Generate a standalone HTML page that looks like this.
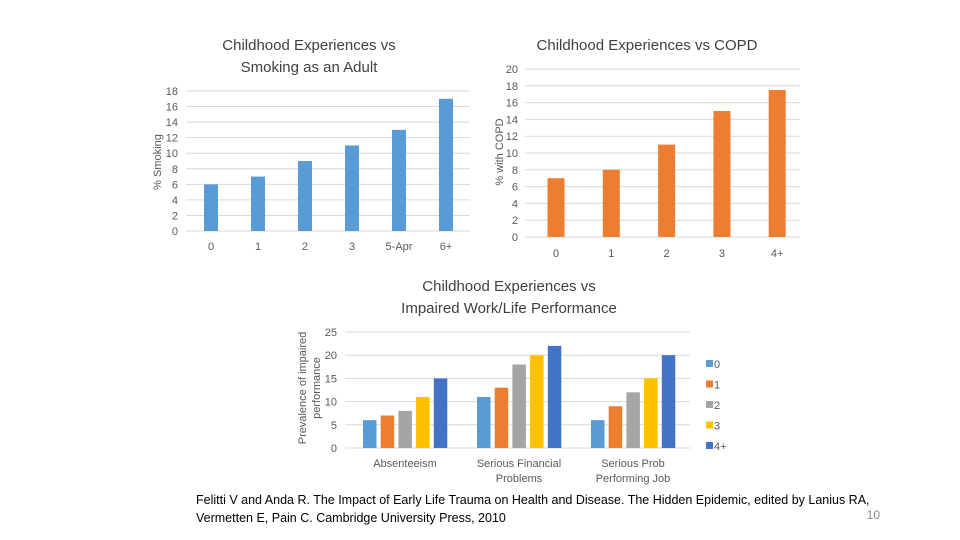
<!DOCTYPE html>
<html><head><meta charset="utf-8"><style>
body{margin:0;width:960px;height:540px;background:#fff;overflow:hidden;font-family:"Liberation Sans",sans-serif}
svg{position:absolute;left:0;top:0}
text{fill:#595959;font-family:"Liberation Sans",sans-serif}
</style></head><body>
<svg width="960" height="540">
<g id="c1"></g>
<g id="c2"></g>
<g id="c3"></g>
<text x="309" y="50" font-size="15" text-anchor="middle" style="fill:#404040">Childhood Experiences vs</text>
<text x="309" y="72" font-size="15" text-anchor="middle" style="fill:#404040">Smoking as an Adult</text>
<text x="647" y="50" font-size="15" text-anchor="middle" style="fill:#404040">Childhood Experiences vs COPD</text>
<text x="509" y="291" font-size="15" text-anchor="middle" style="fill:#404040">Childhood Experiences vs</text>
<text x="509" y="313" font-size="15" text-anchor="middle" style="fill:#404040">Impaired Work/Life Performance</text>
<text transform="translate(161,162) rotate(-90)" font-size="11" text-anchor="middle">% Smoking</text>
<text transform="translate(503,152) rotate(-90)" font-size="11" text-anchor="middle">% with COPD</text>
<text transform="translate(306,388) rotate(-90)" font-size="11" text-anchor="middle">Prevalence of impaired</text>
<text transform="translate(320,388) rotate(-90)" font-size="11" text-anchor="middle">performance</text>
<text x="196" y="504" font-size="12.5" style="fill:#000">Felitti V and Anda R. The Impact of Early Life Trauma on Health and Disease. The Hidden Epidemic, edited by Lanius RA,</text>
<text x="196" y="522" font-size="12.5" style="fill:#000">Vermetten E, Pain C.  Cambridge University Press, 2010</text>
<text x="880" y="519" font-size="12" text-anchor="end" style="fill:#888">10</text>
</svg>
<script>
const c1Cats=["0","1","2","3","5-Apr","6+"];
const c1Vals=[6,7,9,11,13,17];
const c1Ticks=[0,2,4,6,8,10,12,14,16,18];
const c2Cats=["0","1","2","3","4+"];
const c2Vals=[7,8,11,15,17.5];
const c2Ticks=[0,2,4,6,8,10,12,14,16,18,20];
const c3Cats=[["Absenteeism"],["Serious Financial","Problems"],["Serious Prob","Performing Job"]];
const c3Series=["0","1","2","3","4+"];
const c3Abs=[6,7,8,11,15];
const c3Fin=[11,13,18,20,22];
const c3Job=[6,9,12,15,20];
const c3Ticks=[0,5,10,15,20,25];
const NS="http://www.w3.org/2000/svg";
function mk(p,t,a){const e=document.createElementNS(NS,t);for(const k in a)e.setAttribute(k,a[k]);p.appendChild(e);return e;}
function axis(g,ticks,y,x0,x1,lx,name){ticks.forEach(t=>{
 const l=mk(g,"line",{x1:x0,x2:x1,y1:y(t),y2:y(t),stroke:"#d9d9d9","stroke-width":1});
 
 
 const tx=mk(g,"text",{x:lx,y:y(t)+4,"font-size":11,"text-anchor":"end"});tx.textContent=t;
 
 });}
// chart 1
(function(){const g=document.getElementById("c1");
 const y=v=>231-v*(140/18);const x=i=>211+i*47;
 axis(g,c1Ticks,y,186,470,178,"smoking");
 c1Cats.forEach((c,i)=>{const r=mk(g,"rect",{x:x(i)-7,y:y(c1Vals[i]),width:14,height:231-y(c1Vals[i]),fill:"#5b9bd5"});
  
  
  const t=mk(g,"text",{x:x(i),y:250,"font-size":11,"text-anchor":"middle"});t.textContent=c;
  
  });})();
// chart 2
(function(){const g=document.getElementById("c2");
 const y=v=>237-v*(168/20);const x=i=>556+i*55.3;
 axis(g,c2Ticks,y,525,800,518,"copd");
 c2Cats.forEach((c,i)=>{const r=mk(g,"rect",{x:x(i)-8.5,y:y(c2Vals[i]),width:17,height:237-y(c2Vals[i]),fill:"#ed7d31"});
  
  
  const t=mk(g,"text",{x:x(i),y:257,"font-size":11,"text-anchor":"middle"});t.textContent=c;
  
  });})();
// chart 3
(function(){const g=document.getElementById("c3");
 const y=v=>448-v*(116/25);const cols=["#5b9bd5","#ed7d31","#a5a5a5","#ffc000","#4472c4"];
 axis(g,c3Ticks,y,345,690,337,"work");
 const data=[c3Abs,c3Fin,c3Job];
 c3Cats.forEach((c,gi)=>{const gx=363+gi*114;
  data[gi].forEach((v,si)=>{const r=mk(g,"rect",{x:gx+si*17.7,y:y(v),width:13.5,height:448-y(v),fill:cols[si]});
   
   });
  c.forEach((ln,li)=>{const t=mk(g,"text",{x:gx+42,y:467+li*15,"font-size":11,"text-anchor":"middle"});t.textContent=ln;
   
   });});
 c3Series.forEach((s,i)=>{const ly=364+i*20.5;
  const r=mk(g,"rect",{x:706,y:ly-4,width:7,height:7,fill:cols[i]});
  
  
  const t=mk(g,"text",{x:714,y:ly+4,"font-size":11});t.textContent=s;
  
  });})();
</script>
</body></html>
